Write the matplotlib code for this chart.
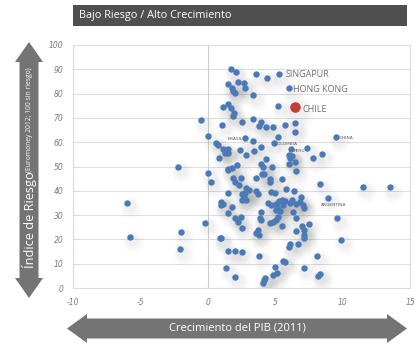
import matplotlib
matplotlib.use("Agg")
import matplotlib.pyplot as plt
from matplotlib.patches import Polygon, Rectangle
from matplotlib.transforms import ScaledTranslation

# ---------------- data ----------------
growth = [1.7, 2.1, 3.6, 4.4, 1.5, 1.76, 2.25, 2.7, 2.74, 1.88, 2.0, 3.36,
          1.1, 1.5, 1.7, 1.95, 1.85, 5.2, -0.47, 1.09, 2.5, 3.33, 3.93, 3.82,
          4.35, 4.8, 5.7, 6.5, 6.5, 0.02, 3.36, 5.2, 0.62, 0.76, 3.95, 7.38,
          1.14, 1.5, 1.26, 1.5, 2.4, 2.84, 3.4, 6.0, 6.25, 6.1, 7.8, 8.5, 0.83,
          4.3, 3.98, 4.1, 4.75, 6.05, 6.44, 6.55, 1.5, 1.8, 2.2, -2.2, 0.02,
          0.22, 1.88, 2.0, 2.45, 3.58, 4.0, 4.2, 4.6, 4.6, 5.5, 2.32, 8.3,
          11.5, 13.5, 1.48, 2.5, 2.75, 3.05, 2.87, 2.57, 2.87, 2.69, 3.56,
          3.73, 4.7, 4.95, 5.83, 6.4, 6.88, 6.85, 7.06, 7.16, 6.57, 6.27,
          6.07, 5.7, 5.53, 4.47, 4.72, 5.04, 5.28, 5.13, 5.04, 5.33, 5.58,
          1.0, 1.13, 1.01, 1.83, 1.5, 3.98, 3.85, 3.98, 6.3, 6.52, 9.6, 9.9,
          -0.2, 2.0, 2.25, 2.44, 2.52, 4.6, 4.84, 5.09, 5.2, 5.53, 6.52, 7.0,
          7.5, 7.13, 7.13, 7.13, 3.75, 3.55, 3.78, 0.9, 6.1, 6.0, 6.69, 1.48,
          2.0, 2.5, 3.83, 8.1, 5.6, 5.72, 5.0, 7.12, 1.38, 2.0, 4.84, 5.1,
          4.17, 4.1, 4.22, 8.17, 8.3, -5.97, -5.78, -2.0, -2.07, 1.5, 1.0]
risk = [90.1, 88.8, 87.9, 86.5, 83.8, 82.4, 84.6, 84.2, 82.3, 80.9, 80.1, 79.4,
        74.3, 75.6, 74.1, 71.9, 70.9, 75.0, 69.1, 67.1, 68.4, 69.4, 68.4, 66.6,
        66.2, 66.3, 67.1, 67.9, 64.0, 62.6, 60.5, 62.0, 59.8, 58.8, 58.1, 57.7,
        57.1, 57.0, 55.5, 55.6, 56.8, 54.9, 56.3, 54.7, 54.3, 53.6, 53.3, 55.0,
        53.5, 53.0, 51.2, 49.7, 50.0, 50.9, 52.0, 48.1, 48.8, 49.5, 50.6,
        49.9, 47.2, 43.5, 45.3, 43.6, 45.4, 45.2, 46.9, 46.8, 44.9, 43.7,
        45.0, 42.4, 43.0, 41.7, 41.4, 39.2, 38.7, 39.3, 40.3, 41.2, 36.2,
        36.2, 37.6, 39.8, 38.6, 39.6, 39.0, 40.6, 40.0, 37.3, 35.5, 34.2,
        33.0, 34.6, 36.2, 34.8, 35.9, 36.2, 35.1, 34.2, 34.6, 35.9, 33.2,
        32.1, 31.8, 34.2, 35.5, 34.6, 34.0, 33.2, 30.7, 31.2, 28.8, 28.0,
        31.4, 28.7, 28.7, 19.8, 26.9, 28.7, 27.2, 29.1, 24.6, 26.6, 27.3,
        27.8, 29.4, 25.4, 23.6, 25.7, 26.4, 23.9, 21.9, 20.5, 24.0, 22.6,
        22.0, 20.5, 18.2, 16.7, 18.2, 15.4, 15.2, 14.9, 13.2, 13.2, 11.0,
        10.8, 8.6, 8.4, 8.4, 4.6, 5.5, 6.0, 3.4, 2.0, 4.0, 5.0, 5.8, 35.1,
        21.0, 23.2, 16.0, 48.6, 20.5]

big_names = ["SINGAPUR", "HONG KONG"]
big_x = [5.3, 6.0]
big_y = [87.9, 82.2]

small_names = ["BRASIL", "COLOMBIA", "PERU", "CHINA", "ARGENTINA"]
small_x = [2.77, 4.9, 6.2, 9.48, 8.9]
small_y = [61.6, 59.5, 57.1, 62.1, 37.1]

chile_x = [6.5]
chile_y = [74.3]

x_ticks = [-10, -5, 0, 5, 10, 15]
y_ticks = [0, 10, 20, 30, 40, 50, 60, 70, 80, 90, 100]

# ---------------- figure ----------------
W, H = 420, 361
fig = plt.figure(figsize=(W / 100, H / 100), dpi=100)
fig.patch.set_facecolor("white")

def fx(px):
    return px / W

def fy(py):
    return 1 - py / H

ax = fig.add_axes([fx(73), fy(288), fx(410) - fx(73), fy(45) - fy(288)])
ax.set_xlim(-10, 15)
ax.set_ylim(0, 100)
ax.set_xticks(x_ticks)
ax.set_yticks(y_ticks)
ax.set_xticklabels([str(v) for v in x_ticks])
ax.set_yticklabels([str(v) for v in y_ticks])
for lab in ax.get_xticklabels() + ax.get_yticklabels():
    lab.set_fontstyle("italic")
    lab.set_fontsize(5.5)
    lab.set_color("#7a7a7a")
ax.tick_params(length=0, pad=7)
ax.grid(axis="y", color="#dedede", lw=0.8)
ax.axvline(0, color="#cfcfcf", lw=0.8, zorder=1)
for s in ax.spines.values():
    s.set_color("#dcdcdc")
    s.set_linewidth(0.8)
ax.set_axisbelow(True)

all_x = growth + big_x + small_x
all_y = risk + big_y + small_y

# soft shadows
for dx, dy, size, a in [(3.5, -5, 220, 0.02), (3, -4.5, 140, 0.025), (2.5, -3.5, 80, 0.03)]:
    tr = ax.transData + ScaledTranslation(dx / 100, dy / 100, fig.dpi_scale_trans)
    ax.scatter(all_x, all_y, s=size, color="#505050", alpha=a, lw=0,
               transform=tr, zorder=2)
    ax.scatter(chile_x, chile_y, s=size * 2.5, color="#505050", alpha=a, lw=0,
               transform=tr, zorder=2)

ax.scatter(all_x, all_y, s=21, color="#4a79b6", lw=0, zorder=3)
ax.scatter(chile_x, chile_y, s=58, color="#c0413b", lw=0, zorder=4)

# labels
ax.text(5.78, 88.0, "SINGAPUR", fontsize=6.5, color="#6e6e6e", va="center",
        ha="left", family="Open Sans", zorder=5)
ax.text(6.3, 81.6, "HONG KONG", fontsize=6.5, color="#6e6e6e", va="center",
        ha="left", family="Open Sans", zorder=5)
ax.text(7.0, 73.4, "CHILE", fontsize=6.5, color="#6e6e6e", va="center",
        ha="left", family="Open Sans", zorder=5)
ax.text(2.6, 61.3, "BRASIL", fontsize=3.2, color="#606060", va="center", ha="right", zorder=5)
ax.text(4.95, 59.3, "COLOMBIA", fontsize=3.2, color="#606060", va="center", ha="left", zorder=5)
ax.text(6.4, 56.2, "PERU", fontsize=3.2, color="#606060", va="center", ha="left", zorder=5)
ax.text(9.78, 61.9, "CHINA", fontsize=3.2, color="#606060", va="center", ha="left", zorder=5)
ax.text(8.4, 34.3, "ARGENTINA", fontsize=3.2, color="#606060", va="center", ha="left", zorder=5)

# title bar
fig.add_artist(Rectangle((fx(73), fy(26)), fx(407) - fx(73), fy(5) - fy(26),
                         transform=fig.transFigure, color="#4f4f4f", lw=0))
fig.text(fx(79), fy(15.5), "Bajo Riesgo / Alto Crecimiento", color="white",
         fontsize=7.8, family="Open Sans", va="center", ha="left")

arrow_col = "#747474"

# horizontal arrow
x0, x1, yc = 67, 407, 328.5
hh, sh, hl = 14.5, 10, 20
pts = [(x0, yc), (x0 + hl, yc - hh), (x0 + hl, yc - sh), (x1 - hl, yc - sh),
       (x1 - hl, yc - hh), (x1, yc), (x1 - hl, yc + hh), (x1 - hl, yc + sh),
       (x0 + hl, yc + sh), (x0 + hl, yc + hh)]
fig.add_artist(Polygon([(fx(a), fy(b)) for a, b in pts], closed=True,
                       transform=fig.transFigure, color=arrow_col, lw=0))
fig.text(fx(237), fy(328.5), "Crecimiento del PIB (2011)", color="white",
         fontsize=8, family="Open Sans", va="center", ha="center")

# vertical arrow
xc, y0, y1 = 29, 42, 298
hw, sw, hl2 = 14, 9.5, 20
pts = [(xc, y0), (xc + hw, y0 + hl2), (xc + sw, y0 + hl2), (xc + sw, y1 - hl2),
       (xc + hw, y1 - hl2), (xc, y1), (xc - hw, y1 - hl2), (xc - sw, y1 - hl2),
       (xc - sw, y0 + hl2), (xc - hw, y0 + hl2)]
fig.add_artist(Polygon([(fx(a), fy(b)) for a, b in pts], closed=True,
                       transform=fig.transFigure, color=arrow_col, lw=0))
fig.text(fx(29.5), fy(268), "Índice de Riesgo", color="white", fontsize=9.2,
         family="Open Sans", rotation=90, va="bottom", ha="center")
fig.text(fx(29.5), fy(172), "(Euromoney 2012; 100 sin riesgo)", color="white",
         fontsize=4.9, family="Open Sans", rotation=90, va="bottom", ha="center")

fig.savefig("out.png", dpi=100, facecolor="white")
